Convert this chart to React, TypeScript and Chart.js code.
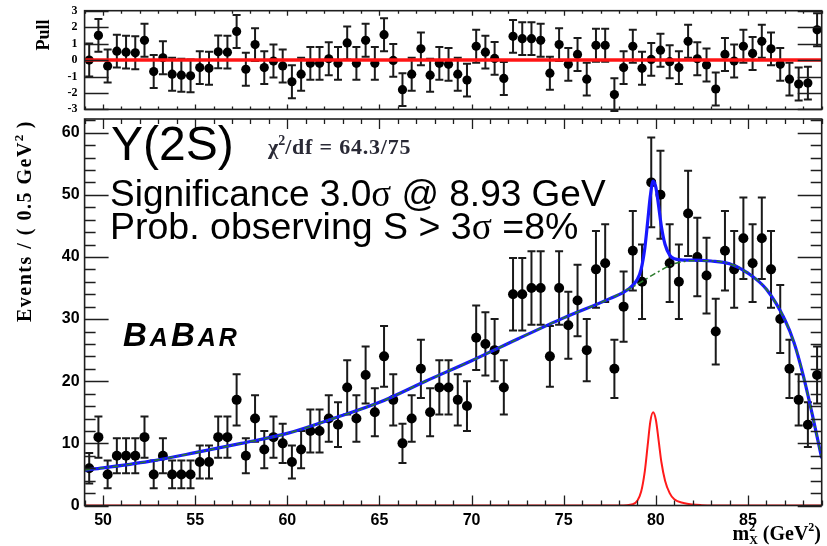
import React, { useEffect, useRef } from "react";
import { Chart, registerables } from "chart.js";
Chart.register(...registerables);

// ---------- data ----------
const binCenters = [
  49.25, 49.75, 50.25, 50.75, 51.25, 51.75, 52.25, 52.75, 53.25, 53.75,
  54.25, 54.75, 55.25, 55.75, 56.25, 56.75, 57.25, 57.75, 58.25, 58.75,
  59.25, 59.75, 60.25, 60.75, 61.25, 61.75, 62.25, 62.75, 63.25, 63.75,
  64.25, 64.75, 65.25, 65.75, 66.25, 66.75, 67.25, 67.75, 68.25, 68.75,
  69.25, 69.75, 70.25, 70.75, 71.25, 71.75, 72.25, 72.75, 73.25, 73.75,
  74.25, 74.75, 75.25, 75.75, 76.25, 76.75, 77.25, 77.75, 78.25, 78.75,
  79.25, 79.75, 80.25, 80.75, 81.25, 81.75, 82.25, 82.75, 83.25, 83.75,
  84.25, 84.75, 85.25, 85.75, 86.25, 86.75, 87.25, 87.75, 88.25, 88.75,
];
const events = [
  6, 11, 5, 8, 8, 8, 11, 5, 8, 5, 5, 5, 7, 7, 11, 11,
  17, 8, 14, 9, 11, 10, 7, 9, 12, 12, 14, 13, 19, 14, 21, 15,
  24, 17, 10, 14, 22, 15, 19, 19, 17, 16, 27, 26, 25, 19, 34, 34,
  35, 35, 24, 35, 29, 33, 25, 38, 39, 22, 32, 41, 36, 52, 50, 39,
  36, 47, 40, 37, 28, 41, 38, 43, 39, 43, 38, 30, 22, 17, 13, 21,
];
const pulls = [
  0.0, 1.5, -0.36, 0.54, 0.48, 0.44, 1.2, -0.7, 0.14, -0.86, -0.92, -0.96, -0.46, -0.5, 0.5, 0.48,
  1.74, -0.56, 0.94, -0.46, -0.06, -0.36, -1.32, -0.86, -0.2, -0.2, 0.08, -0.2, 1.04, -0.2, 1.2, -0.2,
  1.54, -0.02, -1.8, -0.86, 0.68, -0.92, -0.2, -0.26, -0.86, -1.22, 0.84, 0.48, 0.1, -1.12, 1.44, 1.3,
  1.3, 1.2, -0.8, 0.94, -0.26, 0.34, -1.16, 0.9, 0.9, -2.1, -0.46, 0.84, -0.5, 0.04, 0.6, -0.1,
  -0.46, 1.14, 0.08, -0.3, -1.76, 0.34, -0.06, 0.84, 0.4, 1.14, 0.68, -0.26, -1.16, -1.46, -1.4, 1.84,
];
// total fit (blue)
const fitX = [49, 50, 52.5, 55, 57.5, 60, 62.5, 65, 67.5, 70, 72.5, 75, 77.5, 78.5, 79, 79.2, 79.4, 79.55, 79.7, 79.85, 80, 80.15, 80.3, 80.5, 80.75, 81, 81.5, 82, 83, 84, 85, 86, 87, 87.5, 88, 88.5, 89];
const fitY = [5.7, 6.05, 7.1, 8.5, 10.0, 11.6, 14.0, 16.6, 20.0, 23.3, 26.8, 30.2, 33.3, 34.8, 36.4, 38.0, 41.4, 45.5, 49.8, 52.2, 51.2, 48.2, 44.9, 42.0, 40.3, 39.7, 39.5, 39.5, 39.35, 38.9, 37.4, 34.8, 29.9, 26.2, 20.9, 14.5, 7.6];
// background (green dash-dot)
const bkgX = [49, 50, 52.5, 55, 57.5, 60, 62.5, 65, 67.5, 70, 72.5, 75, 77.5, 78.5, 79, 80, 81, 82, 83, 84, 85, 86, 87, 87.5, 88, 88.5, 89];
const bkgY = [5.7, 6.05, 7.1, 8.5, 10.0, 11.6, 14.0, 16.6, 20.0, 23.3, 26.8, 30.2, 33.3, 34.8, 35.6, 37.4, 38.9, 39.4, 39.35, 38.9, 37.4, 34.8, 29.9, 26.2, 20.9, 14.5, 7.6];
// signal (red)
const sigX = [49, 78, 78.75, 79, 79.2, 79.4, 79.55, 79.7, 79.85, 80, 80.15, 80.3, 80.5, 80.75, 81, 81.5, 82, 82.5, 83, 89];
const sigY = [0, 0, 0.2, 0.8, 2.2, 5.5, 9.5, 13.5, 15.0, 13.8, 10.5, 7.0, 4.0, 2.0, 1.0, 0.4, 0.15, 0.05, 0, 0];

const xTicks = [50, 55, 60, 65, 70, 75, 80, 85];
const yTicks = [0, 10, 20, 30, 40, 50, 60];
const pullTicks = [-3, -2, -1, 0, 1, 2, 3];

// ---------- layout constants ----------
const W = 827;
const PULL_H = 114;
const MAIN_TOP = 114;
const MAIN_H = 432;
const PLOT_L = 84.6;
const PLOT_R = 821.7;

const SANS = "'Liberation Sans', Arial, sans-serif";
const SERIF = "'Liberation Serif', 'Times New Roman', serif";

type Run = { t: string; f: string; dy?: number; ls?: number };
function runWidth(ctx: CanvasRenderingContext2D, r: Run) {
  ctx.font = r.f;
  const ls = r.ls || 0;
  return ctx.measureText(r.t).width + ls * r.t.length;
}
function runsWidth(ctx: CanvasRenderingContext2D, runs: Run[]) {
  let w = 0;
  for (const r of runs) w += runWidth(ctx, r);
  return w;
}
function drawRuns(ctx: CanvasRenderingContext2D, x: number, y: number, runs: Run[]) {
  ctx.textAlign = "left";
  ctx.textBaseline = "alphabetic";
  for (const r of runs) {
    ctx.font = r.f;
    const ls = r.ls || 0;
    if (ls) {
      for (const ch of r.t) {
        ctx.fillText(ch, x, y + (r.dy || 0));
        x += ctx.measureText(ch).width + ls;
      }
    } else {
      ctx.fillText(r.t, x, y + (r.dy || 0));
      x += ctx.measureText(r.t).width;
    }
  }
  return x;
}

function drawFrameTicks(
  chart: any,
  xFrom: number, xTo: number, xStep: number, xMajorEvery: number, xMajLen: number, xMinLen: number,
  yVals: number[], yIsMajor: (v: number) => boolean, yMajLen: number, yMinLen: number
) {
  const { ctx, chartArea: a, scales } = chart;
  const xs = scales.x, ys = scales.y;
  ctx.save();
  ctx.strokeStyle = "#1e1e1e";
  ctx.lineWidth = 1.3;
  ctx.beginPath();
  for (let v = xFrom; v <= xTo + 1e-9; v += xStep) {
    const px = Math.round(xs.getPixelForValue(v)) + 0.5;
    const major = Math.abs(v / xMajorEvery - Math.round(v / xMajorEvery)) < 1e-6;
    const len = major ? xMajLen : xMinLen;
    ctx.moveTo(px, a.bottom);
    ctx.lineTo(px, a.bottom - len);
    ctx.moveTo(px, a.top);
    ctx.lineTo(px, a.top + len);
  }
  for (const v of yVals) {
    const py = Math.round(ys.getPixelForValue(v)) + 0.5;
    const len = yIsMajor(v) ? yMajLen : yMinLen;
    ctx.moveTo(a.left, py);
    ctx.lineTo(a.left + len, py);
    ctx.moveTo(a.right, py);
    ctx.lineTo(a.right - len, py);
  }
  ctx.stroke();
  ctx.lineWidth = 1.6;
  ctx.strokeRect(a.left, a.top, a.right - a.left, a.bottom - a.top);
  ctx.restore();
}

function drawErrorBars(chart: any, xsV: number[], ysV: number[], errs: number[], cap: number) {
  const { ctx, scales } = chart;
  const xs = scales.x, ys = scales.y;
  ctx.save();
  ctx.strokeStyle = "#1a1a1a";
  ctx.lineWidth = 2;
  ctx.beginPath();
  for (let i = 0; i < xsV.length; i++) {
    const px = xs.getPixelForValue(xsV[i]);
    const t = ys.getPixelForValue(ysV[i] + errs[i]);
    const b = ys.getPixelForValue(ysV[i] - errs[i]);
    ctx.moveTo(px, t);
    ctx.lineTo(px, b);
    ctx.moveTo(px - cap, t);
    ctx.lineTo(px + cap, t);
    ctx.moveTo(px - cap, b);
    ctx.lineTo(px + cap, b);
  }
  ctx.stroke();
  ctx.restore();
}

const mainDeco = {
  id: "mainDeco",
  beforeDatasetsDraw(chart: any) {
    drawErrorBars(chart, binCenters, events, events.map((v) => Math.sqrt(v)), 4);
  },
  afterDraw(chart: any) {
    const yVals: number[] = [];
    for (let v = 0; v <= 62; v += 2) yVals.push(v);
    drawFrameTicks(chart, 49, 89, 1, 5, 10, 5, yVals, (v) => v % 10 === 0, 24, 11);

    const ctx: CanvasRenderingContext2D = chart.ctx;
    const off = MAIN_TOP;
    ctx.save();
    ctx.fillStyle = "#000";
    // Y(2S)
    drawRuns(ctx, 111, 160 - off, [{ t: "Y(2S)", f: `48px ${SANS}` }]);
    // chi2/df
    ctx.fillStyle = "#2a2a36";
    drawRuns(ctx, 268, 154 - off, [
      { t: "χ", f: `bold 22px ${SERIF}` },
      { t: "2", f: `bold 14px ${SERIF}`, dy: -9 },
      { t: "/df = 64.3/75", f: `bold 22px ${SERIF}`, ls: 0.8 },
    ]);
    ctx.fillStyle = "#000";
    drawRuns(ctx, 110, 206 - off, [
      { t: "Significance 3.0", f: `37px ${SANS}` },
      { t: "σ", f: `37px ${SERIF}` },
      { t: " @ 8.93 GeV", f: `37px ${SANS}` },
    ]);
    drawRuns(ctx, 110, 239 - off, [
      { t: "Prob. observing S > 3", f: `37.5px ${SANS}` },
      { t: "σ", f: `37.5px ${SERIF}` },
      { t: " =8%", f: `37.5px ${SANS}` },
    ]);
    // BABAR
    {
      const big = `italic bold 33px ${SANS}`;
      const small = `italic bold 25px ${SANS}`;
      const letters: Run[] = [
        { t: "B", f: big }, { t: "A", f: small }, { t: "B", f: big }, { t: "A", f: small }, { t: "R", f: small },
      ];
      let x = 123;
      for (const l of letters) {
        ctx.font = l.f;
        ctx.fillText(l.t, x, 346 - off);
        x += ctx.measureText(l.t).width + 3;
      }
    }
    // Y axis title
    {
      const runs: Run[] = [
        { t: "Events / ( 0.5 GeV", f: `bold 20px ${SERIF}`, ls: 1.5 },
        { t: "2", f: `bold 13px ${SERIF}`, dy: -8 },
        { t: " )", f: `bold 20px ${SERIF}`, ls: 1.5 },
      ];
      const w = runsWidth(ctx, runs);
      ctx.save();
      ctx.translate(31, 120 - off);
      ctx.rotate(-Math.PI / 2);
      drawRuns(ctx, -w, 0, runs);
      ctx.restore();
    }
    // X axis title m^2_X (GeV^2)
    {
      const f = `bold 20px ${SERIF}`;
      const fs = `bold 12px ${SERIF}`;
      ctx.font = f;
      const wm = ctx.measureText("m").width;
      ctx.font = fs;
      const wsup = Math.max(ctx.measureText("2").width, ctx.measureText("X").width);
      const tail: Run[] = [
        { t: " (GeV", f },
        { t: "2", f: fs, dy: -9 },
        { t: ")", f },
      ];
      const total = wm + wsup + runsWidth(ctx, tail);
      const base = 540 - off;
      let x = 821 - total;
      ctx.textAlign = "left";
      ctx.font = f;
      ctx.fillText("m", x, base);
      x += wm;
      ctx.font = fs;
      ctx.fillText("2", x, base - 9);
      ctx.fillText("X", x, base + 4);
      x += wsup;
      drawRuns(ctx, x, base, tail);
    }
    ctx.restore();
  },
};

const pullDeco = {
  id: "pullDeco",
  beforeDatasetsDraw(chart: any) {
    drawErrorBars(chart, binCenters, pulls, pulls.map(() => 1), 4);
  },
  afterDraw(chart: any) {
    drawFrameTicks(chart, 49, 89, 1, 5, 5, 3, pullTicks, () => true, 24, 12);
    const ctx: CanvasRenderingContext2D = chart.ctx;
    ctx.save();
    ctx.fillStyle = "#000";
    ctx.font = `bold 18px ${SERIF}`;
    ctx.translate(49, 35);
    ctx.rotate(-Math.PI / 2);
    ctx.textAlign = "center";
    ctx.textBaseline = "alphabetic";
    ctx.fillText("Pull", 0, 0);
    ctx.restore();
  },
};

function zeroPad(s: any) {
  s.paddingLeft = 0;
  s.paddingRight = 0;
  s.paddingTop = 0;
  s.paddingBottom = 0;
}

export default function App() {
  const pullRef = useRef<HTMLCanvasElement | null>(null);
  const mainRef = useRef<HTMLCanvasElement | null>(null);

  useEffect(() => {
    const pts = (xs: number[], ys: number[]) => xs.map((x, i) => ({ x, y: ys[i] }));

    const main = new Chart(mainRef.current as HTMLCanvasElement, {
      type: "line",
      data: {
        datasets: [
          {
            data: pts(binCenters, events),
            showLine: false,
            pointRadius: 5,
            pointBackgroundColor: "#000",
            pointBorderWidth: 0,
            order: 4,
          } as any,
          {
            data: pts(sigX, sigY),
            borderColor: "#ff1a1a",
            borderWidth: 2,
            pointRadius: 0,
            cubicInterpolationMode: "monotone",
            fill: false,
            order: 3,
          } as any,
          {
            data: pts(fitX, fitY),
            borderColor: "#1818ff",
            borderWidth: 3.2,
            pointRadius: 0,
            cubicInterpolationMode: "monotone",
            fill: false,
            order: 2,
          } as any,
          {
            data: pts(bkgX, bkgY),
            borderColor: "#2a7a2a",
            borderWidth: 1.5,
            borderDash: [6, 3, 2, 3],
            pointRadius: 0,
            cubicInterpolationMode: "monotone",
            fill: false,
            order: 1,
          } as any,
        ],
      },
      options: {
        animation: false,
        responsive: false,
        maintainAspectRatio: false,
        devicePixelRatio: 1,
        events: [],
        layout: { padding: { left: 0, right: W - PLOT_R, top: 116.7 - MAIN_TOP, bottom: 0 } },
        plugins: { legend: { display: false }, tooltip: { enabled: false }, title: { display: false } },
        scales: {
          x: {
            type: "linear",
            min: 49,
            max: 89,
            grid: { display: false, drawTicks: false },
            border: { display: false },
            ticks: {
              color: "#000",
              font: { family: SANS, size: 16, weight: "bold" },
              padding: 5,
              maxRotation: 0,
              autoSkip: false,
            },
            afterBuildTicks: (s: any) => {
              s.ticks = xTicks.map((v) => ({ value: v }));
            },
            afterFit: (s: any) => {
              s.height = MAIN_TOP + MAIN_H - 505.5;
              zeroPad(s);
            },
          },
          y: {
            type: "linear",
            min: 0,
            max: 62.2,
            grid: { display: false, drawTicks: false },
            border: { display: false },
            ticks: {
              color: "#000",
              font: { family: SANS, size: 16, weight: "bold" },
              padding: 5,
              autoSkip: false,
            },
            afterBuildTicks: (s: any) => {
              s.ticks = yTicks.map((v) => ({ value: v }));
            },
            afterFit: (s: any) => {
              s.width = PLOT_L;
              zeroPad(s);
            },
          },
        },
      } as any,
      plugins: [mainDeco],
    });

    const pull = new Chart(pullRef.current as HTMLCanvasElement, {
      type: "line",
      data: {
        datasets: [
          {
            data: pts(binCenters, pulls),
            showLine: false,
            pointRadius: 4.6,
            pointBackgroundColor: "#000",
            pointBorderWidth: 0,
            order: 2,
          } as any,
          {
            data: [
              { x: 49, y: 0 },
              { x: 89, y: 0 },
            ],
            borderColor: "#ff1414",
            borderWidth: 3.5,
            pointRadius: 0,
            fill: false,
            order: 1,
          } as any,
        ],
      },
      options: {
        animation: false,
        responsive: false,
        maintainAspectRatio: false,
        devicePixelRatio: 1,
        events: [],
        layout: { padding: { left: 0, right: W - PLOT_R, top: 10.7, bottom: 0 } },
        plugins: { legend: { display: false }, tooltip: { enabled: false }, title: { display: false } },
        scales: {
          x: {
            type: "linear",
            min: 49,
            max: 89,
            grid: { display: false, drawTicks: false },
            border: { display: false },
            ticks: { display: false },
            afterFit: (s: any) => {
              s.height = PULL_H - 110;
              zeroPad(s);
            },
          },
          y: {
            type: "linear",
            min: -3,
            max: 3,
            grid: { display: false, drawTicks: false },
            border: { display: false },
            ticks: {
              color: "#000",
              font: { family: SERIF, size: 12, weight: "bold" },
              padding: 7,
              autoSkip: false,
            },
            afterBuildTicks: (s: any) => {
              s.ticks = pullTicks.map((v) => ({ value: v }));
            },
            afterFit: (s: any) => {
              s.width = PLOT_L;
              zeroPad(s);
            },
          },
        },
      } as any,
      plugins: [pullDeco],
    });

    return () => {
      main.destroy();
      pull.destroy();
    };
  }, []);

  return (
    <div style={{ position: "fixed", left: 0, top: 0, width: W, height: 546, background: "#fff" }}>
      <canvas
        ref={pullRef}
        width={W}
        height={PULL_H}
        style={{ position: "absolute", left: 0, top: 0, width: W, height: PULL_H }}
      />
      <canvas
        ref={mainRef}
        width={W}
        height={MAIN_H}
        style={{ position: "absolute", left: 0, top: MAIN_TOP, width: W, height: MAIN_H }}
      />
    </div>
  );
}
